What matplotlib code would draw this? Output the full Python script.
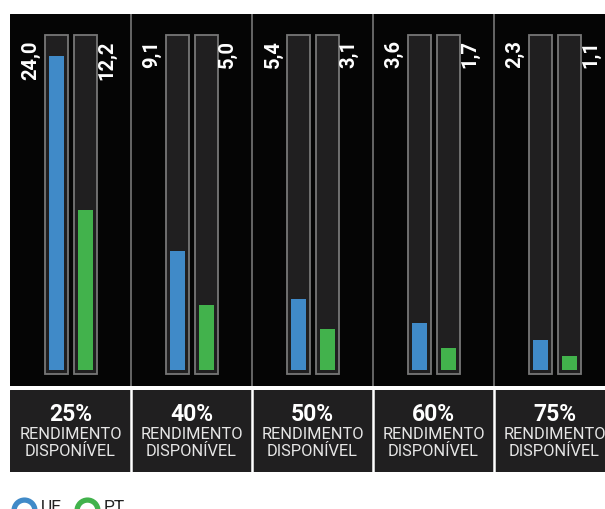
import numpy as np
import matplotlib
matplotlib.use('Agg')
import matplotlib.pyplot as plt
from matplotlib.lines import Line2D

plt.rcParams['font.family'] = ['Roboto', 'DejaVu Sans']

# data
levels = ['25%', '40%', '50%', '60%', '75%']
ue = [24.0, 9.1, 5.4, 3.6, 2.3]
pt = [12.2, 5.0, 3.1, 1.7, 1.1]
sub_label = 'RENDIMENTO\nDISPONÍVEL'
series = ['UE', 'PT']

BLUE = '#408ac8'
GREEN = '#42b24c'
TRACK = '#201f20'
EDGE = '#777777'
PANEL = '#050505'

W, H = 605, 510
fig = plt.figure(figsize=(W / 100, H / 100), dpi=100)

# top panel: bars (pixel box 10..615 x 15..387)
ax = fig.add_axes([10 / W, 1 - 387 / H, 605 / W, 372 / H])
ax.set_xlim(0, len(levels))
ax.set_ylim(-1.22, 27.18)
ax.axis('off')
ax.add_patch(plt.Rectangle((0, 0), 1, 1, transform=ax.transAxes,
                           color=PANEL, zorder=0))

x = np.arange(len(levels))
x_ue = x + 0.384
x_pt = x + 0.624
track_w = 0.19
fill_w = 0.124
track_top, track_bot = 25.57, -0.3

ax.bar(x_ue, track_top - track_bot, track_w, bottom=track_bot,
       color=TRACK, edgecolor=EDGE, linewidth=1.3, zorder=1)
ax.bar(x_pt, track_top - track_bot, track_w, bottom=track_bot,
       color=TRACK, edgecolor=EDGE, linewidth=1.3, zorder=1)
ax.bar(x_ue, ue, fill_w, color=BLUE, zorder=2)
ax.bar(x_pt, pt, fill_w, color=GREEN, zorder=2)

for i in range(1, len(levels)):
    ax.axvline(i, color=EDGE, linewidth=1.2, zorder=1)

def fmt(v):
    return f'{v:.1f}'.replace('.', ',')

for i in range(len(levels)):
    ax.text(x[i] + 0.174, 25.25, fmt(ue[i]), rotation=90, color='white',
            fontsize=14.5, fontweight='bold', ha='center', va='top')
    ax.text(x[i] + 0.80, 25.25, fmt(pt[i]), rotation=90, color='white',
            fontsize=14.5, fontweight='bold', ha='center', va='top')

# bottom boxes (pixel box 10..615 x 391..473)
bx = fig.add_axes([10 / W, 1 - 473 / H, 605 / W, 82 / H])
bx.set_xlim(0, len(levels))
bx.set_ylim(0, 1)
bx.axis('off')
bx.add_patch(plt.Rectangle((0, 0), 1, 1, transform=bx.transAxes,
                           color=TRACK, zorder=0))
for i in range(1, len(levels)):
    bx.axvline(i, color='white', linewidth=1.8, zorder=1)
line1, line2 = sub_label.split('\n')
for i, lab in enumerate(levels):
    bx.text(i + 0.5, 0.634, lab, color='white', fontsize=16.5,
            fontweight='bold', ha='center', va='baseline')
    bx.text(i + 0.5, 0.415, line1, color='#e6e6e6', fontsize=11.8,
            ha='center', va='baseline')
    bx.text(i + 0.5, 0.207, line2, color='#e6e6e6', fontsize=11.8,
            ha='center', va='baseline')

# legend, cut at the bottom edge like the reference
for k, (name, col) in enumerate(zip(series, [BLUE, GREEN])):
    cx = 23.5 + k * 63
    fig.add_artist(Line2D([cx / W], [1 - 511 / H], transform=fig.transFigure,
                          linestyle='none', marker='o', markersize=15,
                          markerfacecolor='white', markeredgecolor=col,
                          markeredgewidth=3.8))
    fig.text((cx + 17.5) / W, 1 - 500 / H, name, color='#222222',
             fontsize=12.5, ha='left', va='top')

fig.savefig('out.png', dpi=100, facecolor='white')
